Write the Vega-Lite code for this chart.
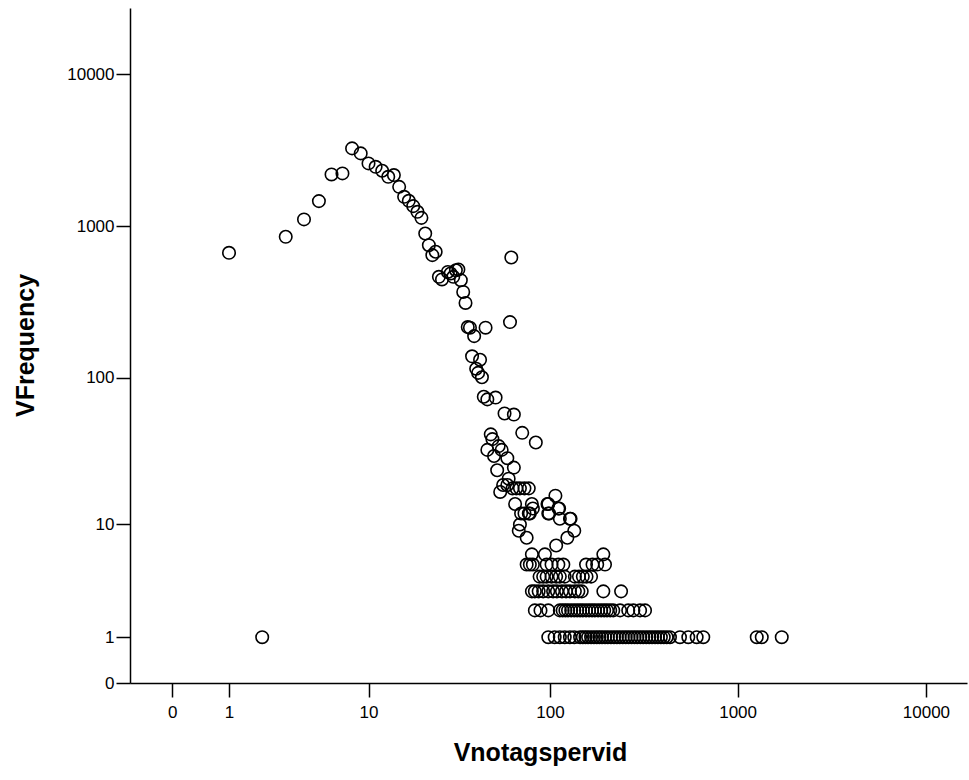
{
  "$schema": "https://vega.github.io/schema/vega-lite/v6.json",
  "width": 837,
  "height": 675,
  "autosize": "none",
  "padding": {"left": 130, "top": 8, "right": 2, "bottom": 97},
  "background": "white",
  "config": {
    "view": {"stroke": null},
    "font": "Liberation Sans"
  },
  "data": {
    "values": [
      {"v": 1, "f": 669}, {"v": 2, "f": 1}, {"v": 3, "f": 853}, {"v": 4, "f": 1110}, {"v": 5, "f": 1464},
      {"v": 6, "f": 2193}, {"v": 7, "f": 2227}, {"v": 8, "f": 3252}, {"v": 9, "f": 3015}, {"v": 10, "f": 2591},
      {"v": 11, "f": 2461}, {"v": 12, "f": 2317}, {"v": 13, "f": 2115}, {"v": 14, "f": 2171}, {"v": 15, "f": 1817},
      {"v": 16, "f": 1562}, {"v": 17, "f": 1471}, {"v": 18, "f": 1357}, {"v": 19, "f": 1245}, {"v": 20, "f": 1136},
      {"v": 21, "f": 897}, {"v": 22, "f": 751}, {"v": 23, "f": 646}, {"v": 24, "f": 680}, {"v": 25, "f": 465},
      {"v": 26, "f": 447}, {"v": 28, "f": 501}, {"v": 29, "f": 489}, {"v": 30, "f": 465}, {"v": 31, "f": 514},
      {"v": 32, "f": 520}, {"v": 33, "f": 442}, {"v": 34, "f": 370}, {"v": 35, "f": 313}, {"v": 36, "f": 217},
      {"v": 37, "f": 215}, {"v": 38, "f": 139}, {"v": 39, "f": 189}, {"v": 40, "f": 115}, {"v": 41, "f": 108},
      {"v": 42, "f": 132}, {"v": 43, "f": 101}, {"v": 44, "f": 75}, {"v": 45, "f": 215}, {"v": 46, "f": 72},
      {"v": 51, "f": 74}, {"v": 57, "f": 58}, {"v": 64, "f": 57}, {"v": 62, "f": 623}, {"v": 61, "f": 234},
      {"v": 71, "f": 43}, {"v": 84, "f": 37}, {"v": 48, "f": 42}, {"v": 49, "f": 39}, {"v": 46, "f": 33},
      {"v": 50, "f": 30}, {"v": 53, "f": 35}, {"v": 55, "f": 33}, {"v": 59, "f": 29}, {"v": 52, "f": 24},
      {"v": 64, "f": 25}, {"v": 56, "f": 19}, {"v": 54, "f": 17}, {"v": 60, "f": 21}, {"v": 59, "f": 19},
      {"v": 63, "f": 18}, {"v": 66, "f": 18}, {"v": 69, "f": 18}, {"v": 73, "f": 18}, {"v": 77, "f": 18},
      {"v": 65, "f": 14}, {"v": 80, "f": 14}, {"v": 97, "f": 14}, {"v": 98, "f": 14}, {"v": 107, "f": 16},
      {"v": 81, "f": 13}, {"v": 111, "f": 13}, {"v": 112, "f": 13}, {"v": 70, "f": 12}, {"v": 73, "f": 12},
      {"v": 77, "f": 12}, {"v": 78, "f": 12}, {"v": 98, "f": 12}, {"v": 99, "f": 12}, {"v": 113, "f": 11},
      {"v": 128, "f": 11}, {"v": 129, "f": 11}, {"v": 69, "f": 10}, {"v": 68, "f": 9}, {"v": 135, "f": 9},
      {"v": 75, "f": 8}, {"v": 124, "f": 8}, {"v": 108, "f": 7}, {"v": 80, "f": 6}, {"v": 94, "f": 6},
      {"v": 193, "f": 6},
      {"v": 75, "f": 5}, {"v": 78, "f": 5}, {"v": 81, "f": 5}, {"v": 96, "f": 5}, {"v": 102, "f": 5},
      {"v": 111, "f": 5}, {"v": 118, "f": 5}, {"v": 156, "f": 5}, {"v": 169, "f": 5}, {"v": 179, "f": 5},
      {"v": 197, "f": 5},
      {"v": 88, "f": 4}, {"v": 92, "f": 4}, {"v": 96, "f": 4}, {"v": 102, "f": 4}, {"v": 108, "f": 4},
      {"v": 113, "f": 4}, {"v": 120, "f": 4}, {"v": 136, "f": 4}, {"v": 143, "f": 4}, {"v": 150, "f": 4},
      {"v": 157, "f": 4}, {"v": 166, "f": 4},
      {"v": 80, "f": 3}, {"v": 83, "f": 3}, {"v": 87, "f": 3}, {"v": 92, "f": 3}, {"v": 98, "f": 3},
      {"v": 104, "f": 3}, {"v": 109, "f": 3}, {"v": 116, "f": 3}, {"v": 122, "f": 3}, {"v": 128, "f": 3},
      {"v": 136, "f": 3}, {"v": 142, "f": 3}, {"v": 148, "f": 3}, {"v": 193, "f": 3}, {"v": 240, "f": 3},
      {"v": 83, "f": 2}, {"v": 89, "f": 2}, {"v": 98, "f": 2}, {"v": 113, "f": 2}, {"v": 117, "f": 2},
      {"v": 121, "f": 2}, {"v": 125, "f": 2}, {"v": 130, "f": 2}, {"v": 135, "f": 2}, {"v": 140, "f": 2},
      {"v": 145, "f": 2}, {"v": 150, "f": 2}, {"v": 156, "f": 2}, {"v": 162, "f": 2}, {"v": 168, "f": 2},
      {"v": 174, "f": 2}, {"v": 181, "f": 2}, {"v": 188, "f": 2}, {"v": 195, "f": 2}, {"v": 202, "f": 2},
      {"v": 210, "f": 2}, {"v": 218, "f": 2}, {"v": 237, "f": 2}, {"v": 262, "f": 2}, {"v": 279, "f": 2},
      {"v": 303, "f": 2}, {"v": 322, "f": 2},
      {"v": 98, "f": 1}, {"v": 106, "f": 1}, {"v": 113, "f": 1}, {"v": 120, "f": 1}, {"v": 128, "f": 1},
      {"v": 135, "f": 1}, {"v": 145, "f": 1}, {"v": 150, "f": 1}, {"v": 155, "f": 1}, {"v": 160, "f": 1},
      {"v": 166, "f": 1}, {"v": 172, "f": 1}, {"v": 178, "f": 1}, {"v": 184, "f": 1}, {"v": 190, "f": 1},
      {"v": 197, "f": 1}, {"v": 204, "f": 1}, {"v": 212, "f": 1}, {"v": 220, "f": 1}, {"v": 228, "f": 1},
      {"v": 236, "f": 1}, {"v": 245, "f": 1}, {"v": 254, "f": 1}, {"v": 263, "f": 1}, {"v": 273, "f": 1},
      {"v": 283, "f": 1}, {"v": 293, "f": 1}, {"v": 304, "f": 1}, {"v": 315, "f": 1}, {"v": 327, "f": 1},
      {"v": 339, "f": 1}, {"v": 351, "f": 1}, {"v": 364, "f": 1}, {"v": 377, "f": 1}, {"v": 391, "f": 1},
      {"v": 405, "f": 1}, {"v": 420, "f": 1}, {"v": 437, "f": 1}, {"v": 494, "f": 1}, {"v": 547, "f": 1},
      {"v": 606, "f": 1}, {"v": 657, "f": 1}, {"v": 1264, "f": 1}, {"v": 1344, "f": 1}, {"v": 1716, "f": 1}
    ]
  },
  "mark": {"type": "point", "shape": "circle", "filled": false, "stroke": "black", "strokeWidth": 1.6, "size": 155, "opacity": 1},
  "encoding": {
    "x": {
      "field": "v", "type": "quantitative",
      "scale": {"type": "symlog", "constant": 1, "domain": [-0.677, 16520], "nice": false, "zero": false},
      "axis": {
        "values": [0, 1, 10, 100, 1000, 10000], "format": "d",
        "grid": false, "domainColor": "black", "domainWidth": 1.5,
        "tickColor": "black", "tickWidth": 1.5, "tickSize": 14,
        "labelFont": "Liberation Sans", "labelFontSize": 17, "labelColor": "black", "labelPadding": 7,
        "labelFlush": false, "labelOverlap": false,
        "title": "Vnotagspervid", "titleFont": "Liberation Sans", "titleFontSize": 25, "titleFontWeight": "bold",
        "titleColor": "black", "titleX": 410, "titleY": 69, "titleBaseline": "middle", "titleAlign": "center"
      }
    },
    "y": {
      "field": "f", "type": "quantitative",
      "scale": {"type": "symlog", "constant": 1, "domain": [0, 27200], "nice": false, "zero": false},
      "axis": {
        "values": [0, 1, 10, 100, 1000, 10000], "format": "d",
        "grid": false, "domainColor": "black", "domainWidth": 1.5,
        "tickColor": "black", "tickWidth": 1.5, "tickSize": 14,
        "labelFont": "Liberation Sans", "labelFontSize": 17, "labelColor": "black", "labelPadding": 2,
        "labelFlush": false, "labelOverlap": false,
        "title": "VFrequency", "titleFont": "Liberation Sans", "titleFontSize": 25, "titleFontWeight": "bold",
        "titleColor": "black", "titleX": -105, "titleY": 337, "titleAngle": 270, "titleBaseline": "middle", "titleAlign": "center"
      }
    }
  }
}
